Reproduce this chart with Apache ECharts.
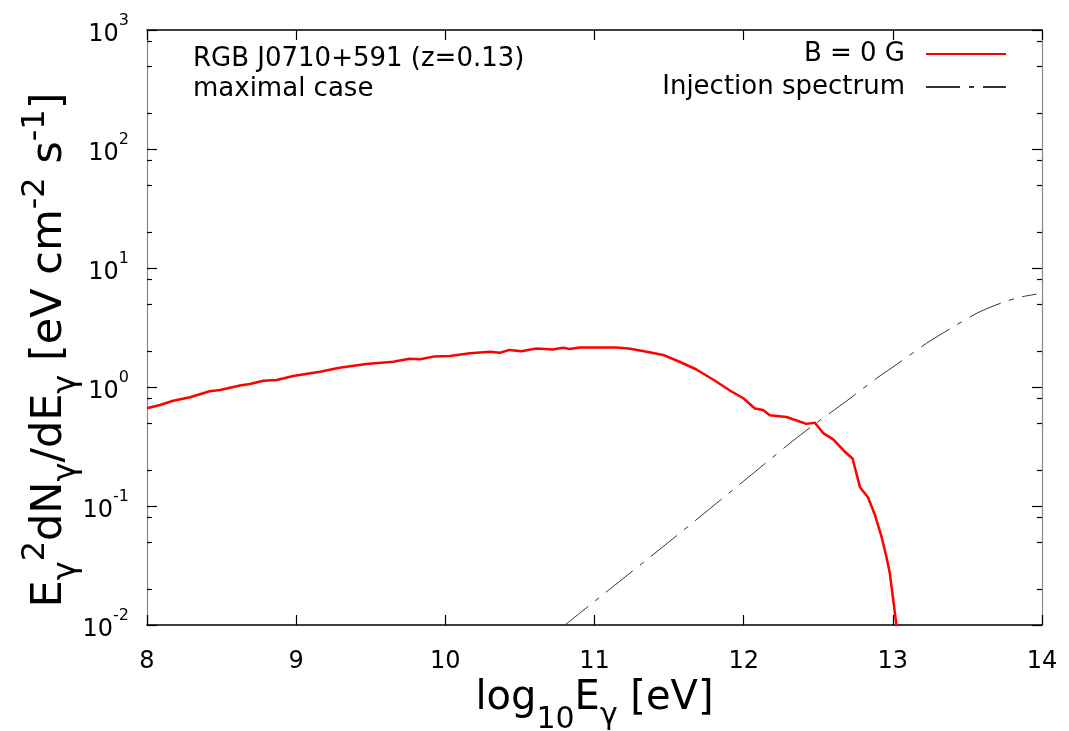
<!DOCTYPE html>
<html>
<head>
<meta charset="utf-8">
<script src="https://cdn.jsdelivr.net/npm/echarts@6/dist/echarts.min.js"></script>
<style>html,body{margin:0;padding:0;background:#fff;}#c{width:1069px;height:731px;}</style>
</head>
<body>
<div id="c"></div>
<script>
// ---- data ----
const xTicks = [8, 9, 10, 11, 12, 13, 14];
const yMinorTicks = [0.02, 0.05, 0.08, 0.2, 0.5, 0.8, 2, 5, 8, 20, 50, 80, 200, 500, 800];
const redX = [8.0, 8.087, 8.176, 8.288, 8.42, 8.49, 8.623, 8.69, 8.78, 8.87, 8.98, 9.16, 9.29, 9.47, 9.65, 9.76, 9.83, 9.92, 10.03, 10.165, 10.3, 10.366, 10.43, 10.51, 10.61, 10.72, 10.79, 10.835, 10.9, 11.01, 11.15, 11.24, 11.35, 11.46, 11.57, 11.68, 11.8, 11.91, 12.0, 12.075, 12.13, 12.175, 12.287, 12.42, 12.477, 12.533, 12.6, 12.678, 12.73, 12.78, 12.834, 12.88, 12.924, 12.957, 12.98, 13.0, 13.024, 13.035];
const redY = [0.662, 0.706, 0.767, 0.819, 0.92, 0.944, 1.03, 1.06, 1.13, 1.145, 1.236, 1.345, 1.45, 1.56, 1.63, 1.73, 1.71, 1.80, 1.82, 1.92, 1.98, 1.94, 2.05, 2.0, 2.11, 2.07, 2.14, 2.09, 2.15, 2.15, 2.15, 2.1, 1.98, 1.86, 1.63, 1.41, 1.145, 0.93, 0.80, 0.66, 0.64, 0.58, 0.56, 0.49, 0.50, 0.41, 0.363, 0.286, 0.251, 0.1435, 0.118, 0.084, 0.0552, 0.0375, 0.0272, 0.0173, 0.0100, 0.008];
const injX = [10.78, 11.0, 11.5, 12.0, 12.38, 12.712, 12.89, 13.036, 13.226, 13.37, 13.57, 13.74, 13.85, 13.963];
const injY = [0.0095, 0.0158, 0.05, 0.162, 0.395, 0.80, 1.18, 1.58, 2.33, 3.01, 4.21, 5.15, 5.67, 6.03];
const seriesNames = ['B = 0 G', 'Injection spectrum'];
const noteLines = ['RGB J0710+591 (z=0.13)', 'maximal case'];

const FONT = 'DejaVu Sans';
const chart = echarts.init(document.getElementById('c'), null, {renderer: 'canvas'});

function pairs(xs, ys) { return xs.map((x, i) => [x, ys[i]]); }

const supLabel = v => {
  const e = Math.round(Math.log10(v));
  return '{b|10}{s|' + e + '}';
};
const tickRich = {
  b: {fontSize: 24, fontFamily: FONT, color: '#000', lineHeight: 34, verticalAlign: 'bottom'},
  s: {fontSize: 16, fontFamily: FONT, color: '#000', lineHeight: 34, verticalAlign: 'top'}
};

const option = {
  backgroundColor: '#fff',
  animation: false,
  grid: {left: 147, right: 27, top: 30, bottom: 106, containLabel: false, outerBoundsMode: 'none'},
  legend: {
    right: 57, top: 36, orient: 'vertical', align: 'right',
    itemWidth: 80, itemHeight: 14, itemGap: 7,
    itemStyle: {opacity: 0},
    textStyle: {fontFamily: FONT, fontSize: 26, color: '#000', padding: [0, 16, 0, 0]},
    data: [
      {name: seriesNames[0]},
      {name: seriesNames[1]}
    ]
  },
  xAxis: [{
    type: 'value', min: 8, max: 14, interval: 1, position: 'bottom',
    axisLine: {lineStyle: {color: '#000', width: 1.5}},
    axisTick: {inside: true, length: 10, lineStyle: {color: '#000', width: 1.2}},
    axisLabel: {fontFamily: FONT, fontSize: 24, color: '#000', margin: 25, formatter: v => String(v)},
    splitLine: {show: false},
    name: '{a|log}{s|10}{a|E}{g|γ}{a| [eV]}',
    nameLocation: 'middle', nameGap: 29,
    nameTextStyle: {
      rich: {
        a: {fontFamily: FONT, fontSize: 40, color: '#000', lineHeight: 40, verticalAlign: 'top'},
        s: {fontFamily: FONT, fontSize: 30, color: '#000', lineHeight: 30, verticalAlign: 'top', padding: [26, 0, 0, 0]},
        g: {fontFamily: FONT, fontSize: 30, color: '#000', lineHeight: 30, verticalAlign: 'top', padding: [22, 0, 0, 0]}
      }
    }
  }, {
    type: 'value', min: 8, max: 14, interval: 1, position: 'top',
    axisLine: {lineStyle: {color: '#000', width: 1.5}},
    axisTick: {inside: true, length: 10, lineStyle: {color: '#000', width: 1.2}},
    axisLabel: {show: false}, splitLine: {show: false}
  }],
  yAxis: [{
    type: 'log', logBase: 10, min: 0.01, max: 1000, position: 'left',
    axisLine: {show: true, lineStyle: {color: '#888', width: 1.2}},
    axisTick: {show: true, inside: true, length: 10, lineStyle: {color: '#000', width: 1.2}},
    axisLabel: {formatter: supLabel, rich: tickRich, margin: 18},
    splitLine: {show: false}
  }, {
    type: 'log', logBase: 10, min: 0.01, max: 1000, position: 'right',
    axisLine: {show: true, lineStyle: {color: '#888', width: 1.2}},
    axisTick: {show: true, inside: true, length: 10, lineStyle: {color: '#000', width: 1.2}},
    axisLabel: {show: false}, splitLine: {show: false}
  }, {
    type: 'log', logBase: 10, min: 0.01, max: 1000, position: 'left',
    axisLine: {show: false},
    axisTick: {show: true, inside: true, length: 5, customValues: yMinorTicks, lineStyle: {color: '#000', width: 1.2}},
    axisLabel: {show: false}, splitLine: {show: false}
  }, {
    type: 'log', logBase: 10, min: 0.01, max: 1000, position: 'right',
    axisLine: {show: false},
    axisTick: {show: true, inside: true, length: 5, customValues: yMinorTicks, lineStyle: {color: '#000', width: 1.2}},
    axisLabel: {show: false}, splitLine: {show: false}
  }],
  series: [{
    name: seriesNames[0], type: 'line', xAxisIndex: 0, yAxisIndex: 0,
    data: pairs(redX, redY), showSymbol: false, symbol: 'none', clip: true,
    lineStyle: {color: '#ff0000', width: 2.5}, itemStyle: {color: '#ff0000'}
  }, {
    name: seriesNames[1], type: 'line', xAxisIndex: 0, yAxisIndex: 0,
    data: pairs(injX, injY), showSymbol: false, symbol: 'none', clip: true, smooth: 0.3,
    lineStyle: {color: '#333', width: 1, type: [34, 9, 5, 9]}, itemStyle: {color: '#333'}
  }],
  graphic: [{
    type: 'text', left: 193, top: 46,
    style: {text: noteLines[0], fontFamily: FONT, fontSize: 26, fill: '#000'}
  }, {
    type: 'text', left: 193, top: 76,
    style: {text: noteLines[1], fontFamily: FONT, fontSize: 26, fill: '#000'}
  }, {
    type: 'text', x: 20, y: 350, rotation: Math.PI / 2,
    style: {
      text: '{a|E}{g|γ}{p|2}{a|dN}{g|γ}{a|/dE}{g|γ}{a| [eV cm}{p|-2}{a| s}{p|-1}{a|]}',
      align: 'center', verticalAlign: 'top',
      rich: {
        a: {fontFamily: FONT, fontSize: 43, fill: '#000', lineHeight: 43, verticalAlign: 'top', padding: [8, 0, 0, 0]},
        g: {fontFamily: FONT, fontSize: 32, fill: '#000', lineHeight: 32, verticalAlign: 'top', padding: [31, 0, 0, 0]},
        p: {fontFamily: FONT, fontSize: 32, fill: '#000', lineHeight: 32, verticalAlign: 'top', padding: [0, 0, 0, 0]}
      }
    }
  }]
};
chart.setOption(option);
</script>
</body>
</html>
